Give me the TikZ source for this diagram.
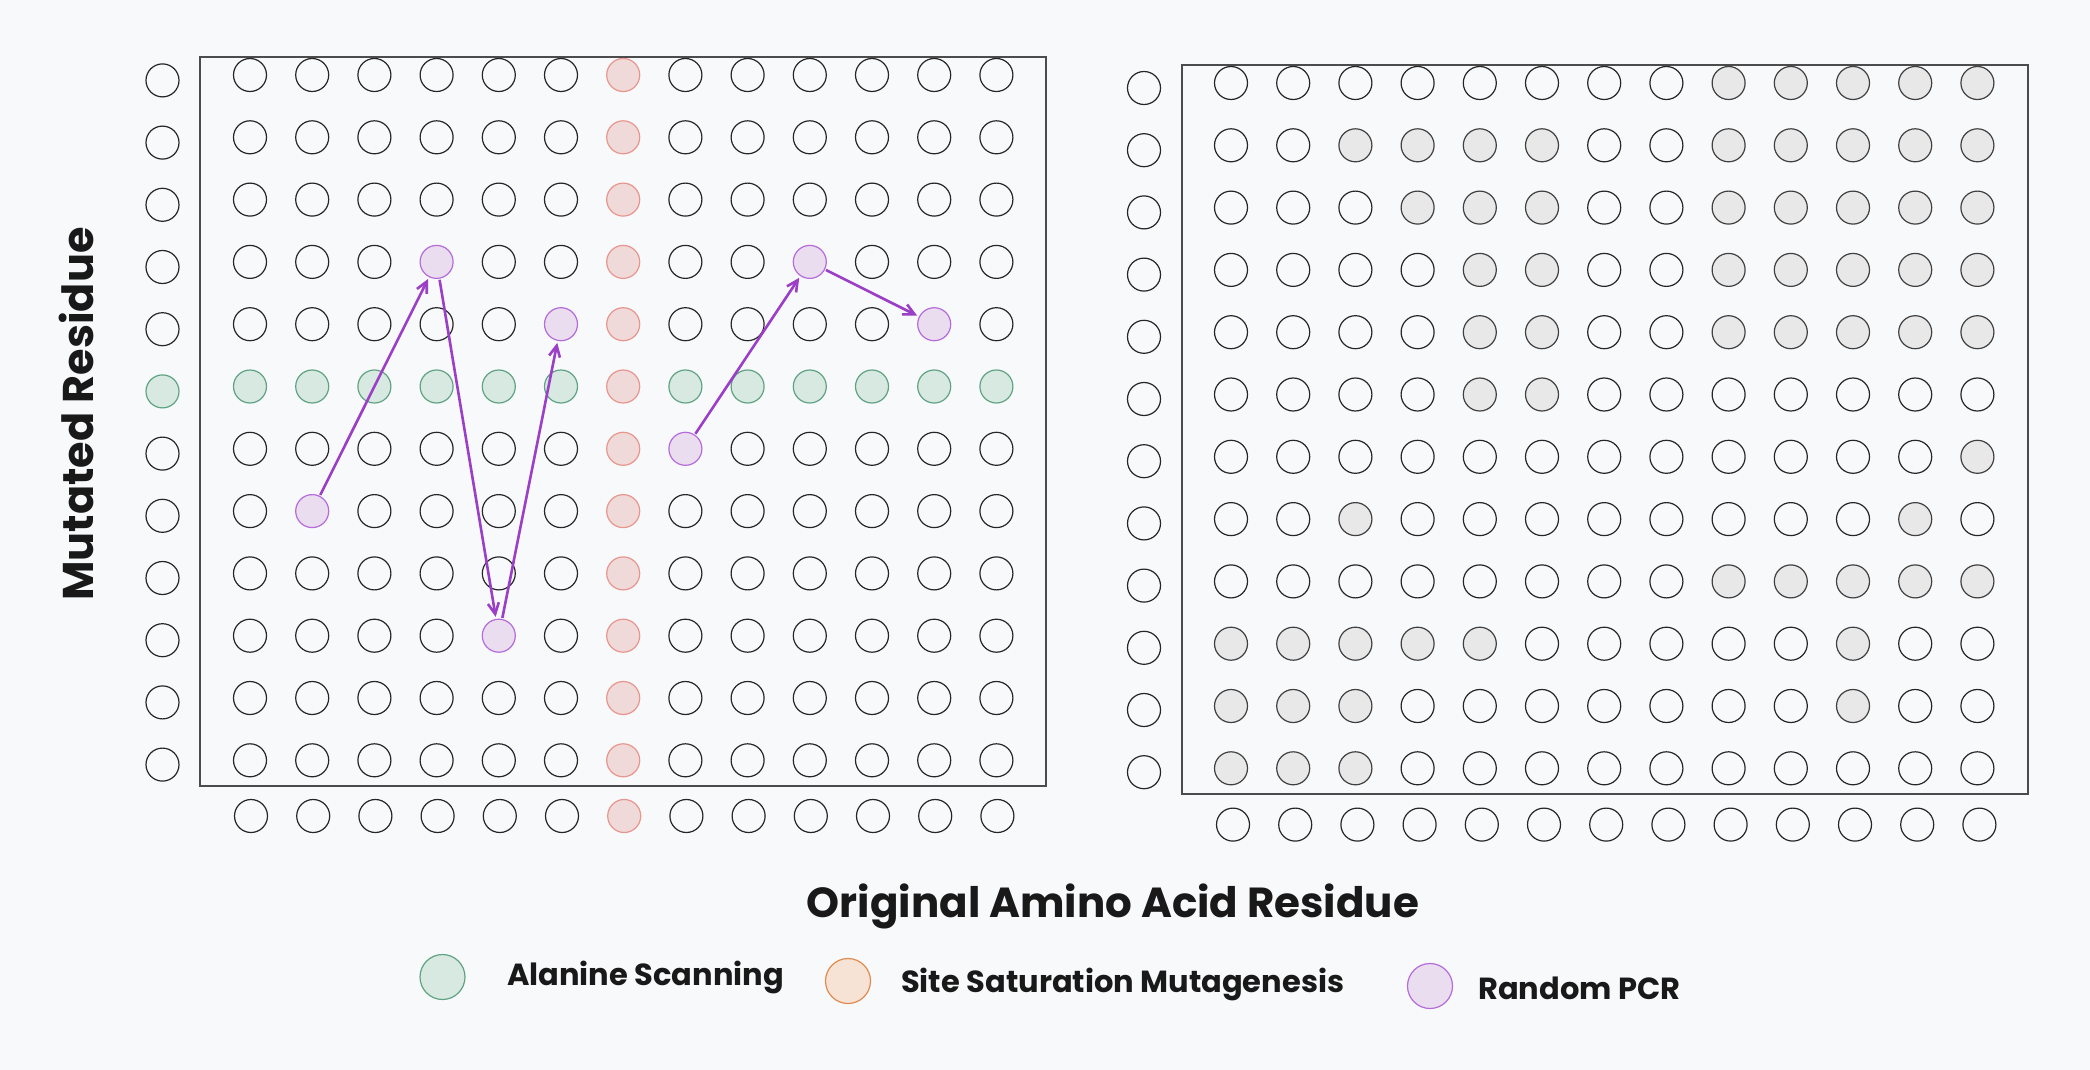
\documentclass[tikz,border=0pt]{standalone}
\usepackage{fontspec}
\setmainfont{Poppins}
\usepackage{xcolor}
\usepackage{tikz}
\usetikzlibrary{arrows.meta,positioning}
\definecolor{bgc}{HTML}{F8F9FB}
\definecolor{alafill}{HTML}{D8E9E2}
\definecolor{aladraw}{HTML}{5FA383}
\definecolor{ssmfill}{HTML}{F0DAD9}
\definecolor{ssmdraw}{HTML}{E8958E}
\definecolor{orgfill}{HTML}{F7E3D6}
\definecolor{orgdraw}{HTML}{E08A4E}
\definecolor{rpfill}{HTML}{EADDEF}
\definecolor{rpdraw}{HTML}{B56BDA}
\definecolor{rparrow}{HTML}{9A3FC6}
\definecolor{hitfill}{HTML}{E8E8E8}
\tikzset{
  dot/.style={circle, draw=black!85, line width=1.2pt, minimum size=33pt, inner sep=0pt},
  ala/.style={dot, draw=aladraw, fill=alafill},
  ssm/.style={dot, draw=ssmdraw, fill=ssmfill},
  rpcr/.style={dot, draw=rpdraw, fill=rpfill},
  hit/.style={dot, draw=black!75, fill=hitfill},
  frame/.style={draw=black!70, line width=1.3pt},
  walk/.style={-{Straight Barb[length=11pt, width=11pt, line width=2.6pt]}, draw=rparrow, line width=2.6pt, shorten >=2pt, shorten <=1pt},
  axistitle/.style={font=\bfseries, text=black!90},
  legdot/.style={circle, line width=1.2pt, minimum size=45pt, inner sep=0pt},
  legtext/.style={font=\bfseries\fontsize{30.5}{36}\selectfont, text=black!90, anchor=west, inner sep=0pt}
}
% purple cells (left) and grey cells (right)
\foreach \p in {3-3,3-9,4-5,4-11,6-7,7-1,9-4}{\expandafter\gdef\csname rp\p\endcsname{}}
\foreach \p in {0-8,0-9,0-10,0-11,0-12,
  1-2,1-3,1-4,1-5,1-8,1-9,1-10,1-11,1-12,
  2-3,2-4,2-5,2-8,2-9,2-10,2-11,2-12,
  3-4,3-5,3-8,3-9,3-10,3-11,3-12,
  4-4,4-5,4-8,4-9,4-10,4-11,4-12,
  5-4,5-5,6-12,7-2,7-11,
  8-8,8-9,8-10,8-11,8-12,
  9-0,9-1,9-2,9-3,9-4,9-10,
  10-0,10-1,10-2,10-10,11-0,11-1,11-2}{\expandafter\gdef\csname gy\p\endcsname{}}
\begin{document}
\begin{tikzpicture}[x=1pt, y=-1pt]
  \useasboundingbox[fill=bgc] (0,0) rectangle (2090,1070);

  % Left panel: scanning strategies
  \node[frame, minimum width=846pt, minimum height=729pt, inner sep=0pt] (leftbox) at (623,421.5) {};
  \foreach \r in {0,...,11}{
    \ifnum\r=5 \def\sty{ala}\else\def\sty{dot}\fi
    \node[\sty] (LY-\r) at (162.5,{80.4+62.2*\r}) {};
    \foreach \c in {0,...,12}{
      \ifnum\r=5 \def\sty{ala}\else\def\sty{dot}\fi
      \ifnum\c=6 \def\sty{ssm}\fi
      \ifcsname rp\r-\c\endcsname \def\sty{rpcr}\fi
      \node[\sty] (L-\r-\c) at ({250+62.2*\c},{75+62.3*\r}) {};
    }
  }
  \foreach \c in {0,...,12}{
    \ifnum\c=6 \def\sty{ssm}\else\def\sty{dot}\fi
    \node[\sty] (LX-\c) at ({251+62.2*\c},816) {};
  }

  % Random PCR walk
  \draw[walk] (L-7-1) -- (L-3-3);
  \draw[walk] (L-3-3) -- (L-9-4);
  \draw[walk] (L-9-4) -- (L-4-5);
  \draw[walk] (L-6-7) -- (L-3-9);
  \draw[walk] (L-3-9) -- (L-4-11);

  % Right panel: measured hits
  \node[frame, minimum width=846pt, minimum height=729pt, inner sep=0pt] (rightbox) at (1605,429.5) {};
  \foreach \r in {0,...,11}{
    \node[dot] (RY-\r) at (1144,{88+62.2*\r}) {};
    \foreach \c in {0,...,12}{
      \def\sty{dot}
      \ifcsname gy\r-\c\endcsname \def\sty{hit}\fi
      \node[\sty] (R-\r-\c) at ({1231+62.2*\c},{83+62.3*\r}) {};
    }
  }
  \foreach \c in {0,...,12}{
    \node[dot] (RX-\c) at ({1233+62.2*\c},824.6) {};
  }

  % Axis titles
  \node[axistitle, font=\bfseries\fontsize{43}{50}\selectfont, rotate=90] (ylab) at (76,414) {Mutated Residue};
  \node[axistitle, font=\bfseries\fontsize{42}{48}\selectfont] (xlab) at (1113,906) {Original Amino Acid Residue};

  % Legend
  \node[legdot, draw=aladraw, fill=alafill] (lg-ala) at (442.5,977) {};
  \node[legtext] (lt-ala) at (507,977) {Alanine Scanning};
  \node[legdot, draw=orgdraw, fill=orgfill] (lg-ssm) at (848,981) {};
  \node[legtext] (lt-ssm) at (901,984) {Site Saturation Mutagenesis};
  \node[legdot, draw=rpdraw, fill=rpfill] (lg-rp) at (1430,986) {};
  \node[legtext] (lt-rp) at (1478,988) {Random PCR};
\end{tikzpicture}
\end{document}
